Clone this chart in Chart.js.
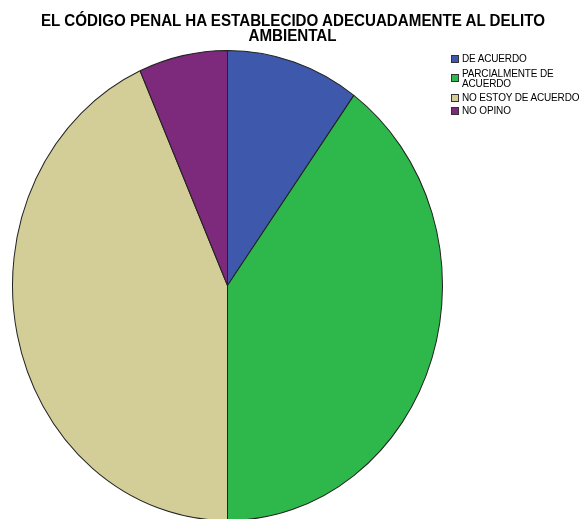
<!DOCTYPE html>
<html>
<head>
<meta charset="utf-8">
<script src="https://cdn.jsdelivr.net/npm/chart.js@4"></script>
<style>
  body { margin: 0; background: #fff; }
  #wrap { position: relative; width: 582px; height: 519px; overflow: hidden; }
  #grafico { position: absolute; left: 0; top: 0; }
  #titulo {
    position: absolute; left: 0; top: 13px; width: 586px; text-align: center;
    font-family: "Liberation Sans", Arial, sans-serif; font-weight: bold;
    font-size: 16px; line-height: 15px; color: #000;
  }
  #titulo div { display: inline-block; transform-origin: center; white-space: nowrap; }
  #leyenda {
    position: absolute; left: 451px; top: 52px;
    font-family: "Liberation Sans", Arial, sans-serif; font-size: 10px; color: #000;
  }
  .item { display: flex; align-items: center; height: 13px; }
  .item.doble { height: 26px; }
  .caja { width: 6px; height: 6px; border: 1px solid #333; margin-right: 3px; flex: none; }
  .texto { line-height: 9.3px; letter-spacing: -0.15px; transform: scaleY(1.08); }
</style>
</head>
<body>
<div id="wrap">
  <canvas id="grafico" width="582" height="519"></canvas>
  <div id="titulo"></div>
  <div id="leyenda"></div>
</div>
<script>
const tituloLineas = ['EL CÓDIGO PENAL HA ESTABLECIDO ADECUADAMENTE AL DELITO', 'AMBIENTAL'];
const categorias = ['DE ACUERDO', 'PARCIALMENTE DE ACUERDO', 'NO ESTOY DE ACUERDO', 'NO OPINO'];
const etiquetasLeyenda = [['DE ACUERDO'], ['PARCIALMENTE DE', 'ACUERDO'], ['NO ESTOY DE ACUERDO'], ['NO OPINO']];
const frecuencias = [3, 12, 13, 2];
const colores = ['#3e58ac', '#2eb84b', '#d3ce97', '#7d297c'];

// titulo (texto estrecho como en el original)
const titulo = document.getElementById('titulo');
tituloLineas.forEach(t => {
  const d = document.createElement('div');
  d.textContent = t;
  titulo.appendChild(d);
  titulo.appendChild(document.createElement('br'));
});
const anchoLinea1 = titulo.children[0].getBoundingClientRect().width;
const escalaX = 504 / anchoLinea1;
for (let el of titulo.querySelectorAll('div')) el.style.transform = 'scaleX(' + escalaX + ')';

// leyenda
const leyenda = document.getElementById('leyenda');
categorias.forEach((c, i) => {
  const item = document.createElement('div');
  item.className = 'item' + (etiquetasLeyenda[i].length > 1 ? ' doble' : '');
  const caja = document.createElement('div');
  caja.className = 'caja';
  caja.style.background = colores[i];
  const texto = document.createElement('div');
  texto.className = 'texto';
  texto.innerHTML = etiquetasLeyenda[i].join('<br>');
  item.appendChild(caja);
  item.appendChild(texto);
  leyenda.appendChild(item);
});

// estira el pastel en vertical (elipse como en SPSS)
const elipse = {
  id: 'elipse',
  beforeDatasetsDraw(chart) {
    const arc = chart.getDatasetMeta(0).data[0];
    const ctx = chart.ctx;
    ctx.save();
    ctx.translate(arc.x, arc.y);
    ctx.scale(1, 235 / 215);
    ctx.translate(-arc.x, -arc.y);
  },
  afterDatasetsDraw(chart) {
    chart.ctx.restore();
  }
};

const ctx = document.getElementById('grafico').getContext('2d');
new Chart(ctx, {
  type: 'pie',
  data: {
    labels: categorias,
    datasets: [{
      data: frecuencias,
      backgroundColor: colores,
      borderColor: '#222',
      borderWidth: 1,
      hoverOffset: 0
    }]
  },
  options: {
    responsive: false,
    animation: false,
    devicePixelRatio: 1,
    layout: { padding: { left: 12, right: 139, top: 70, bottom: 18 } },
    plugins: {
      legend: { display: false },
      title: { display: false },
      tooltip: { enabled: false }
    }
  },
  plugins: [elipse]
});
</script>
</body>
</html>
